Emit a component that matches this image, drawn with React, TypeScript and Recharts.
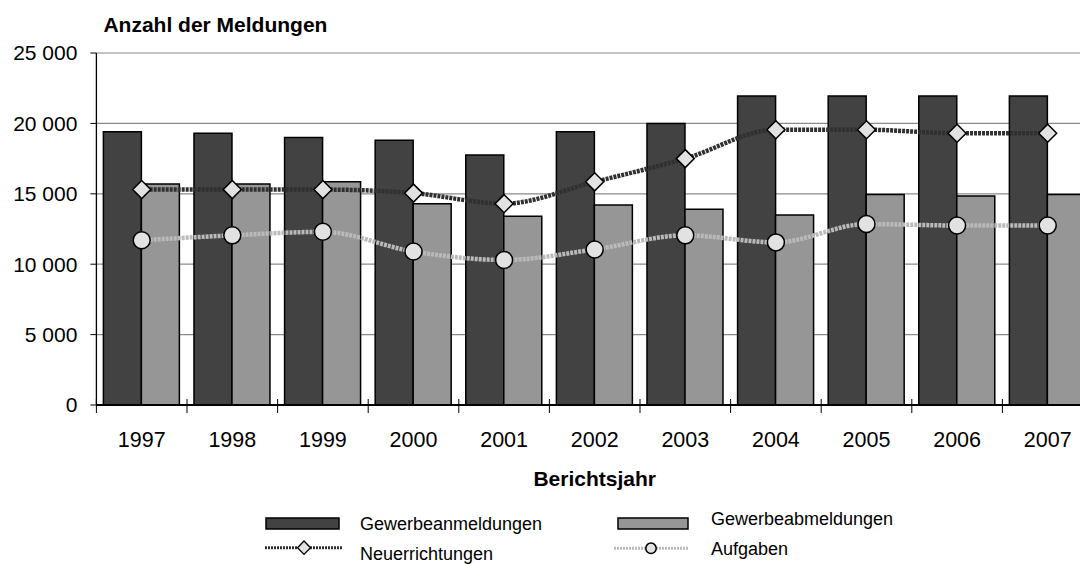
import React from 'react';
import { ComposedChart, Bar, Line, XAxis, YAxis, CartesianGrid, Legend } from 'recharts';

const years = ['1997', '1998', '1999', '2000', '2001', '2002', '2003', '2004', '2005', '2006', '2007'];
const gewerbeanmeldungen = [19400, 19300, 19000, 18800, 17750, 19400, 20000, 21950, 21950, 21950, 21950];
const gewerbeabmeldungen = [15700, 15700, 15850, 14300, 13400, 14200, 13900, 13500, 14950, 14850, 14950];
const neuerrichtungen = [15300, 15300, 15300, 15050, 14300, 15850, 17500, 19550, 19550, 19300, 19300];
const aufgaben = [11700, 12050, 12300, 10900, 10300, 11050, 12050, 11550, 12850, 12750, 12750];
const yTicks = [0, 5000, 10000, 15000, 20000, 25000];

const seriesNames = {
  an: 'Gewerbeanmeldungen',
  ab: 'Gewerbeabmeldungen',
  neu: 'Neuerrichtungen',
  auf: 'Aufgaben',
};

const data = years.map((y, i) => ({
  year: y,
  an: gewerbeanmeldungen[i],
  ab: gewerbeabmeldungen[i],
  neu: neuerrichtungen[i],
  auf: aufgaben[i],
}));

const FONT = '"Liberation Sans", Arial, sans-serif';
const DARK = '#424242';
const LIGHT = '#969696';
const MARK = '#e2e2e2';
const NEU_STROKE = '#303030';
const AUF_STROKE = '#bababa';

const fmt = (v: number) => String(v).replace(/\B(?=(\d{3})+(?!\d))/g, ' ');

const XTick = (props: any) => {
  const { x, y, payload, index, visibleTicksCount } = props;
  const half = payload && typeof payload.offset === 'number' && payload.offset > 0 ? payload.offset : 45.3;
  const last = index === (visibleTicksCount ?? years.length) - 1;
  return (
    <g>
      <line x1={x - half} x2={x - half} y1={y - 6} y2={y + 8} stroke="#000" strokeWidth={1} />
      {last && <line x1={x + half} x2={x + half} y1={y - 6} y2={y + 8} stroke="#000" strokeWidth={1} />}
      <text x={x} y={y + 42} textAnchor="middle" fontFamily={FONT} fontSize={21.5} fill="#000">
        {payload.value}
      </text>
    </g>
  );
};

const Diamond = (props: any) => {
  const { cx, cy, index } = props;
  if (cx == null || cy == null) return <g key={`d${index}`} />;
  const r = 9;
  return (
    <path
      key={`d${index}`}
      d={`M${cx},${cy - r}L${cx + r},${cy}L${cx},${cy + r}L${cx - r},${cy}Z`}
      fill={MARK}
      stroke="#000"
      strokeWidth={1.5}
    />
  );
};

const Circ = (props: any) => {
  const { cx, cy, index } = props;
  if (cx == null || cy == null) return <g key={`c${index}`} />;
  return <circle key={`c${index}`} cx={cx} cy={cy} r={8.5} fill={MARK} stroke="#000" strokeWidth={1.5} />;
};

const renderLegend = () => (
  <svg width={1110} height={70} style={{ display: 'block', overflow: 'visible' }}>
    <rect x={266} y={18} width={73} height={11} fill={DARK} stroke="#000" strokeWidth={1.5} />
    <text x={360} y={30} fontFamily={FONT} fontSize={18} fill="#000">{seriesNames.an}</text>
    <rect x={618} y={18} width={70} height={11} fill={LIGHT} stroke="#000" strokeWidth={1.5} />
    <text x={711} y={25} fontFamily={FONT} fontSize={18} fill="#000">{seriesNames.ab}</text>
    <line x1={265} x2={342} y1={47.7} y2={47.7} stroke={NEU_STROKE} strokeWidth={3} strokeDasharray="2 1" />
    <path d="M304,41L310.5,47.7L304,54.4L297.5,47.7Z" fill={MARK} stroke="#000" strokeWidth={1.3} />
    <text x={360} y={60} fontFamily={FONT} fontSize={18} fill="#000">{seriesNames.neu}</text>
    <line x1={614} x2={688} y1={48.3} y2={48.3} stroke={AUF_STROKE} strokeWidth={3} strokeDasharray="2 1" />
    <circle cx={651} cy={48.3} r={5.2} fill={MARK} stroke="#000" strokeWidth={1.5} />
    <text x={711} y={55} fontFamily={FONT} fontSize={18} fill="#000">{seriesNames.auf}</text>
  </svg>
);

export default function App() {
  return (
    <div
      style={{
        position: 'absolute',
        left: 0,
        top: 0,
        width: 1080,
        height: 565,
        overflow: 'hidden',
        background: '#fff',
      }}
    >
      <ComposedChart
        width={1110}
        height={565}
        data={data}
        margin={{ top: 53, right: 17, bottom: 100, left: 0.4 }}
        barGap={0}
        barCategoryGap="7.7%"
      >
        <CartesianGrid vertical={false} stroke="#8a8a8a" strokeWidth={1.2} />
        <XAxis
          dataKey="year"
          height={60}
          tickSize={0}
          tickMargin={0}
          tickLine={false}
          axisLine={{ stroke: '#000', strokeWidth: 2 }}
          tick={<XTick />}
          interval={0}
          label={{
            content: (p: any) => {
              const vb = p.viewBox || { x: 96, y: 405, width: 997 };
              return (
                <text
                  x={vb.x + vb.width / 2}
                  y={vb.y + 81}
                  textAnchor="middle"
                  fontFamily={FONT}
                  fontSize={21}
                  fontWeight="bold"
                  fill="#000"
                >
                  Berichtsjahr
                </text>
              );
            },
          }}
        />
        <YAxis
          width={96}
          domain={[0, 25000]}
          ticks={yTicks}
          interval={0}
          tickFormatter={fmt}
          tickSize={6}
          tickMargin={13}
          tickLine={{ stroke: '#000' }}
          axisLine={{ stroke: '#000', strokeWidth: 1.3 }}
          tick={{ fontFamily: FONT, fontSize: 21, fill: '#000' }}
          label={{
            content: (p: any) => {
              const vb = p.viewBox || { x: 0, y: 53 };
              return (
                <text
                  x={vb.x + 103}
                  y={vb.y - 21}
                  fontFamily={FONT}
                  fontSize={21}
                  fontWeight="bold"
                  fill="#000"
                >
                  Anzahl der Meldungen
                </text>
              );
            },
          }}
        />
        <Legend
          layout="vertical"
          align="center"
          verticalAlign="middle"
          wrapperStyle={{ left: 0, top: 500, width: 1110, height: 70 }}
          content={renderLegend}
        />
        <Bar dataKey="an" name={seriesNames.an} fill={DARK} stroke="#000" strokeWidth={1.5} isAnimationActive={false} />
        <Bar dataKey="ab" name={seriesNames.ab} fill={LIGHT} stroke="#000" strokeWidth={1.5} isAnimationActive={false} />
        <Line
          dataKey="neu"
          name={seriesNames.neu}
          type="monotone"
          stroke={NEU_STROKE}
          strokeWidth={4.5}
          strokeDasharray="3 1"
          dot={Diamond}
          activeDot={false}
          isAnimationActive={false}
        />
        <Line
          dataKey="auf"
          name={seriesNames.auf}
          type="monotone"
          stroke={AUF_STROKE}
          strokeWidth={4.5}
          strokeDasharray="3 1"
          dot={Circ}
          activeDot={false}
          isAnimationActive={false}
        />
      </ComposedChart>
    </div>
  );
}
